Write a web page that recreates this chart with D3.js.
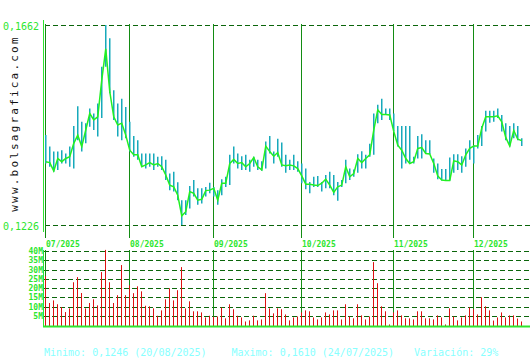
<!DOCTYPE html>
<html>
<head>
<meta charset="utf-8">
<title>bolsagrafica</title>
<style>
body { margin: 0; background: #fff; }
svg text { font-family: "DejaVu Sans Mono", monospace; }
</style>
</head>
<body>
<script src="https://d3js.org/d3.v7.min.js"></script>
<script>

// daily values jul - dec 2025 (one entry per trading day)
var closes = [
  0.1364,0.1362,0.1344,0.1371,0.1364,0.1371,0.1375,0.1404,0.1422,0.1397,
  0.1433,0.1469,0.1455,0.1462,0.1542,0.1610,0.1517,0.1462,0.1444,0.1448,
  0.1422,0.1389,0.1379,0.1379,0.1353,0.1357,0.1362,0.1357,0.1360,0.1353,
  0.1335,0.1313,0.1309,0.1291,0.1246,0.1255,0.1299,0.1295,0.1280,0.1282,
  0.1301,0.1302,0.1306,0.1280,0.1317,0.1317,0.1360,0.1369,0.1360,0.1362,
  0.1353,0.1360,0.1373,0.1353,0.1346,0.1398,0.1386,0.1376,0.1384,0.1357,
  0.1355,0.1357,0.1355,0.1349,0.1333,0.1315,0.1315,0.1313,0.1312,0.1317,
  0.1326,0.1313,0.1297,0.1309,0.1313,0.1353,0.1331,0.1338,0.1371,0.1362,
  0.1371,0.1379,0.1433,0.1477,0.1467,0.1467,0.1466,0.1430,0.1400,0.1389,
  0.1371,0.1360,0.1364,0.1393,0.1395,0.1382,0.1381,0.1360,0.1333,0.1324,
  0.1323,0.1323,0.1366,0.1364,0.1357,0.1379,0.1393,0.1398,0.1398,0.1437,
  0.1462,0.1462,0.1462,0.1464,0.1451,0.1417,0.1398,0.1432,0.1413,0.1410
];
var highs = [
  0.1422,0.1397,0.1386,0.1386,0.1389,0.1382,0.1397,0.1442,0.1485,0.1451,
  0.1448,0.1480,0.1469,0.1491,0.1571,0.1662,0.1633,0.1520,0.1491,0.1501,
  0.1483,0.1451,0.1420,0.1411,0.1382,0.1382,0.1382,0.1382,0.1375,0.1376,
  0.1368,0.1338,0.1342,0.1319,0.1280,0.1280,0.1311,0.1324,0.1306,0.1306,
  0.1309,0.1318,0.1309,0.1302,0.1326,0.1331,0.1379,0.1397,0.1382,0.1376,
  0.1379,0.1368,0.1375,0.1368,0.1365,0.1408,0.1420,0.1386,0.1414,0.1406,
  0.1379,0.1368,0.1379,0.1365,0.1360,0.1349,0.1320,0.1331,0.1333,0.1320,
  0.1335,0.1342,0.1335,0.1320,0.1324,0.1368,0.1349,0.1347,0.1380,0.1387,
  0.1379,0.1403,0.1469,0.1488,0.1501,0.1480,0.1480,0.1469,0.1442,0.1442,
  0.1442,0.1442,0.1375,0.1420,0.1424,0.1411,0.1411,0.1371,0.1360,0.1348,
  0.1348,0.1373,0.1380,0.1380,0.1376,0.1393,0.1411,0.1400,0.1422,0.1442,
  0.1475,0.1475,0.1475,0.1480,0.1466,0.1448,0.1442,0.1448,0.1442,0.1415
];
var lows = [
  0.1360,0.1353,0.1342,0.1346,0.1360,0.1360,0.1353,0.1349,0.1411,0.1386,
  0.1404,0.1440,0.1433,0.1419,0.1459,0.1571,0.1513,0.1455,0.1419,0.1411,
  0.1415,0.1386,0.1375,0.1368,0.1353,0.1349,0.1353,0.1346,0.1353,0.1346,
  0.1324,0.1302,0.1299,0.1280,0.1226,0.1248,0.1262,0.1288,0.1270,0.1273,
  0.1288,0.1295,0.1288,0.1270,0.1291,0.1309,0.1313,0.1360,0.1349,0.1346,
  0.1346,0.1342,0.1353,0.1346,0.1344,0.1349,0.1382,0.1360,0.1375,0.1353,
  0.1340,0.1346,0.1346,0.1342,0.1317,0.1304,0.1295,0.1309,0.1309,0.1299,
  0.1306,0.1306,0.1291,0.1279,0.1309,0.1317,0.1324,0.1331,0.1340,0.1349,
  0.1349,0.1375,0.1379,0.1448,0.1455,0.1466,0.1455,0.1430,0.1397,0.1349,
  0.1360,0.1360,0.1360,0.1371,0.1371,0.1381,0.1381,0.1340,0.1326,0.1323,
  0.1323,0.1323,0.1340,0.1346,0.1340,0.1353,0.1368,0.1360,0.1393,0.1398,
  0.1430,0.1449,0.1451,0.1459,0.1430,0.1411,0.1397,0.1415,0.1411,0.1398
];
// volume in millions
var volumes = [
  26.4,11.9,13.3,11.2,9.7,7.0,9.0,23.1,25.9,17.3,
  9.0,11.9,13.9,10.6,28.6,40.6,23.1,11.9,16.1,32.4,
  16.1,21.5,17.2,20.9,18.2,10.4,10.1,9.0,5.0,7.9,
  13.9,19.9,13.3,18.8,31.3,9.0,12.8,7.4,7.4,6.8,
  4.1,5.0,4.5,4.6,9.5,3.6,11.2,8.5,5.0,4.1,
  1.9,2.5,5.0,2.5,3.0,17.2,9.0,6.3,9.0,8.5,
  5.7,2.5,4.1,4.6,6.8,7.9,7.4,4.1,3.0,4.1,
  6.8,5.7,7.9,7.9,3.0,11.2,4.6,3.6,11.2,5.2,
  3.0,4.6,34.0,22.6,10.1,7.4,0.3,6.8,7.9,5.2,
  3.6,3.6,3.0,7.4,7.4,3.6,3.6,3.0,5.2,4.1,
  0.3,9.0,4.6,2.5,4.1,5.2,9.5,8.5,5.7,15.0,
  10.1,7.9,2.4,4.1,6.8,4.1,5.2,5.2,3.5,1.9
];

// first trading day of each month (index into the arrays above)
var monthStarts = [0, 21, 42, 64, 87, 107];
var monthLabels = ["07/2025", "08/2025", "09/2025", "10/2025", "11/2025", "12/2025"];
var priceTicks = [0.1226, 0.1662];
var volTicks = [5, 10, 15, 20, 25, 30, 35, 40];
var footer = ["Minimo: 0,1246 (20/08/2025)", "Maximo: 0,1610 (24/07/2025)", "Variación: 29%"];

var width = 530, height = 360;
var dark = "#0b650b", mid = "#138c13", bright = "#2ee62e";

var svg = d3.select("body").append("svg")
    .attr("width", width)
    .attr("height", height)
    .style("background", "#fff");

var n = closes.length;
var x = d3.scaleLinear().domain([0, n - 1]).range([45, 45 + 4 * (n - 1)]);
var y = d3.scaleLinear().domain([0.1226, 0.1662]).range([225, 25]);
var yv = d3.scaleLinear().domain([0, 40]).range([325, 251]);
var fmt = function(v) { return d3.format(".4f")(v).replace(".", ","); };

// site label
svg.append("text")
    .attr("transform", "translate(18,123.5) rotate(-90)")
    .attr("text-anchor", "middle")
    .style("font-size", "11px")
    .style("letter-spacing", "2.2px")
    .style("fill", "#111")
    .text("www.bolsagrafica.com");

// price grid
svg.selectAll(".pgrid")
    .data(priceTicks)
    .enter().append("line")
    .attr("x1", 45).attr("x2", width)
    .attr("y1", function(d) { return Math.round(y(d)) + 0.5; })
    .attr("y2", function(d) { return Math.round(y(d)) + 0.5; })
    .style("stroke", dark)
    .style("stroke-dasharray", "5,3");

svg.selectAll(".plabel")
    .data(priceTicks)
    .enter().append("text")
    .attr("x", 39)
    .attr("y", function(d) { return y(d) + 5; })
    .attr("text-anchor", "end")
    .style("font-size", "10px")
    .style("fill", bright)
    .text(fmt);

// volume grid
svg.selectAll(".vgrid")
    .data(volTicks)
    .enter().append("line")
    .attr("x1", 44).attr("x2", width)
    .attr("y1", function(d) { return Math.round(yv(d)) + 0.5; })
    .attr("y2", function(d) { return Math.round(yv(d)) + 0.5; })
    .style("stroke", dark)
    .style("stroke-dasharray", "5,3");

svg.selectAll(".vlabel")
    .data(volTicks)
    .enter().append("text")
    .attr("x", 43)
    .attr("y", function(d) { return yv(d) + 3; })
    .attr("text-anchor", "end")
    .style("font-size", "8px")
    .style("font-weight", "bold")
    .style("fill", bright)
    .text(function(d) { return d + "M"; });

// month separators
svg.selectAll(".mline")
    .data(monthStarts)
    .enter().append("line")
    .attr("x1", function(d) { return Math.round(x(d)) + 0.5; })
    .attr("x2", function(d) { return Math.round(x(d)) + 0.5; })
    .attr("y1", 24).attr("y2", 238)
    .style("stroke", mid);

svg.selectAll(".mline2")
    .data(monthStarts)
    .enter().append("line")
    .attr("x1", function(d) { return Math.round(x(d)) + 0.5; })
    .attr("x2", function(d) { return Math.round(x(d)) + 0.5; })
    .attr("y1", 250).attr("y2", 326)
    .style("stroke", mid);

svg.selectAll(".mlabel")
    .data(monthStarts)
    .enter().append("text")
    .attr("x", function(d) { return x(d) + 1; })
    .attr("y", 246.5)
    .style("font-size", "8px")
    .style("font-weight", "bold")
    .style("fill", bright)
    .text(function(d, i) { return monthLabels[i]; });

// left axis lines
svg.append("line")
    .attr("x1", 43.5).attr("x2", 43.5).attr("y1", 20).attr("y2", 232)
    .style("stroke", bright);
svg.append("line")
    .attr("x1", 43.5).attr("x2", 43.5).attr("y1", 250).attr("y2", 326)
    .style("stroke", bright);

// high-low bars
svg.selectAll(".hl")
    .data(closes)
    .enter().append("line")
    .attr("x1", function(d, i) { return x(i) + 0.75; })
    .attr("x2", function(d, i) { return x(i) + 0.75; })
    .attr("y1", function(d, i) { return y(highs[i]); })
    .attr("y2", function(d, i) { return y(lows[i]); })
    .style("stroke", "#17a9bb")
    .style("stroke-width", 1.5);

// close line
var line = d3.line()
    .x(function(d, i) { return x(i) + 0.75; })
    .y(function(d) { return y(d); });

svg.append("path")
    .datum(closes)
    .attr("d", line)
    .style("fill", "none")
    .style("stroke", "#22f022")
    .style("stroke-width", 1.5);

// volume bars
svg.selectAll(".vol")
    .data(volumes)
    .enter().append("line")
    .attr("x1", function(d, i) { return x(i) + 0.5; })
    .attr("x2", function(d, i) { return x(i) + 0.5; })
    .attr("y1", function(d) { return yv(d); })
    .attr("y2", 326)
    .style("stroke", "#dd1111");

// bottom axis
svg.append("line")
    .attr("x1", 43).attr("x2", width).attr("y1", 326.5).attr("y2", 326.5)
    .style("stroke", bright)
    .style("stroke-width", 2);

// footer
svg.selectAll(".foot")
    .data(footer)
    .enter().append("text")
    .attr("x", function(d, i) { return [44, 231.5, 414][i]; })
    .attr("y", 356)
    .style("font-size", "10px")
    .style("fill", "#88ffff")
    .text(function(d) { return d; });

</script>
</body>
</html>
